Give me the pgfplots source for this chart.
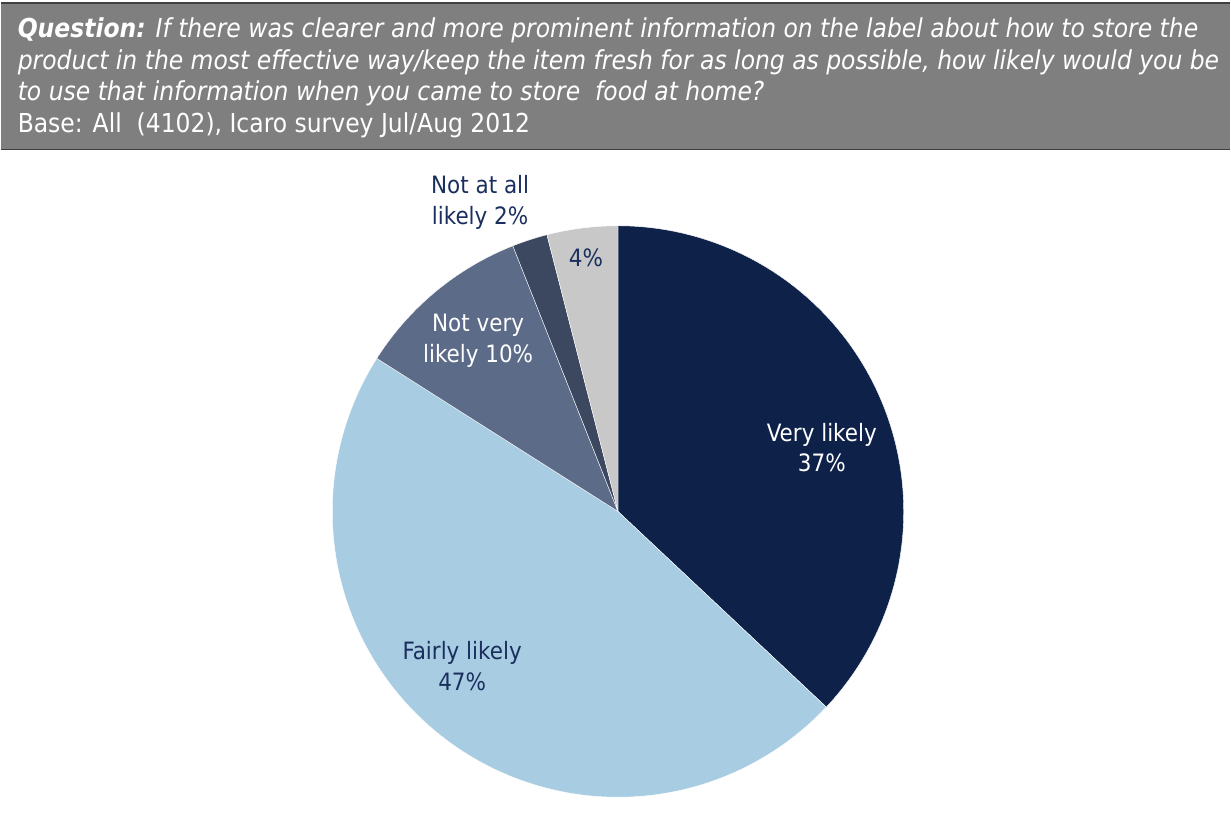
\documentclass[border=0pt]{standalone}
\usepackage{pgfplots}
\pgfplotsset{compat=1.18}
\usepackage{fontspec}
\setmainfont{DejaVu Sans Condensed}
\definecolor{cVery}{HTML}{0D2149}
\definecolor{cFair}{HTML}{A8CCE2}
\definecolor{cNotVery}{HTML}{5C6B88}
\definecolor{cNotAll}{HTML}{3C4760}
\definecolor{cDK}{HTML}{C8C8C8}
\definecolor{cLab}{HTML}{1A2F5E}
\definecolor{cHead}{HTML}{7F7F7F}
\definecolor{cHeadB}{HTML}{404040}
% shares (percent), clockwise from 12 o'clock
\def\vA{37}\def\vB{47}\def\vC{10}\def\vD{2}\def\vE{4}
\pgfmathsetmacro{\aA}{90}
\pgfmathsetmacro{\aB}{\aA-3.6*\vA}
\pgfmathsetmacro{\aC}{\aB-3.6*\vB}
\pgfmathsetmacro{\aD}{\aC-3.6*\vC}
\pgfmathsetmacro{\aE}{\aD-3.6*\vD}
\pgfmathsetmacro{\aF}{\aE-3.6*\vE}
\begin{document}
\begin{tikzpicture}
\begin{axis}[
  x=1bp, y=1bp, xmin=0, xmax=1231, ymin=0, ymax=830,
  scale only axis, hide axis, clip=false,
  samples=120, variable=\t]
% header
\fill[cHead] (axis cs:0,680) rectangle (axis cs:1231,827);
\draw[cHeadB, line width=1.2bp] (axis cs:0,827) -- (axis cs:1231,827);
\draw[cHeadB, line width=1.2bp] (axis cs:0,680) -- (axis cs:1231,680);
\path (axis cs:0,0) rectangle (axis cs:1231,830);
\begin{scope}[every node/.style={anchor=base west, inner sep=0pt, text=white, font=\fontsize{26.2}{30}\selectfont}]
\node at (axis cs:17,792) {\textbf{\textit{Question:}} \textit{If there was clearer and more prominent information on the label about how to store the}};
\node at (axis cs:17,760) {\textit{product in the most effective way/keep the item fresh for as long as possible, how likely would you be}};
\node at (axis cs:17,729) {\textit{to use that information when you came to store\ \ food at home?}};
\node at (axis cs:17,697) {Base: All\ \ (4102), Icaro survey Jul/Aug 2012};
\end{scope}
% pie slices
\addplot[fill=cVery, draw=white, line width=0.4bp, domain=\aB:\aA] ({618+286*cos(\t)},{318+286*sin(\t)}) -- (axis cs:618,318) -- cycle;
\addplot[fill=cFair, draw=white, line width=0.4bp, domain=\aC:\aB] ({618+286*cos(\t)},{318+286*sin(\t)}) -- (axis cs:618,318) -- cycle;
\addplot[fill=cNotVery, draw=white, line width=0.4bp, domain=\aD:\aC, samples=30] ({618+286*cos(\t)},{318+286*sin(\t)}) -- (axis cs:618,318) -- cycle;
\addplot[fill=cNotAll, draw=white, line width=0.4bp, domain=\aE:\aD, samples=10] ({618+286*cos(\t)},{318+286*sin(\t)}) -- (axis cs:618,318) -- cycle;
\addplot[fill=cDK, draw=white, line width=0.4bp, domain=\aF:\aE, samples=15] ({618+286*cos(\t)},{318+286*sin(\t)}) -- (axis cs:618,318) -- cycle;
% labels
\begin{scope}[every node/.style={align=center, inner sep=0pt, font=\fontsize{24}{31}\selectfont}]
\node[text=white] at (axis cs:822,382) {Very likely\\37\%};
\node[text=cLab] at (axis cs:462,163) {Fairly likely\\47\%};
\node[text=white] at (axis cs:478,489) {Not very\\likely 10\%};
\node[text=cLab] at (axis cs:480,627) {Not at all\\likely 2\%};
\node[text=cLab] at (axis cs:586,572) {4\%};
\end{scope}
\end{axis}
\end{tikzpicture}
\end{document}
